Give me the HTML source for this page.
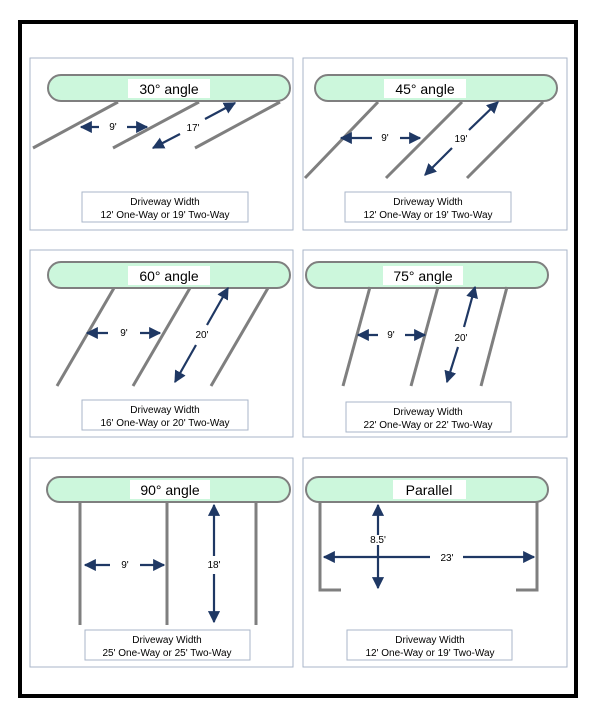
<!DOCTYPE html>
<html><head><meta charset="utf-8"><style>
body{margin:0;background:#fff;}
svg{display:block;font-family:"Liberation Sans",sans-serif;}
.pb{fill:#fff;stroke:#a9b6c9;stroke-width:1}
.pill{fill:#ccf7dc;stroke:#7f7f7f;stroke-width:2}
.ln{stroke:#7f7f7f;stroke-width:3;fill:none}
.ar{stroke:#1f3864;stroke-width:2.2;fill:none}
.bx{fill:#fff;stroke:#a9b6c9;stroke-width:1}
.t{font-size:14px;fill:#000}
.s{font-size:10px;fill:#000}
</style></head><body>
<svg width="600" height="712" viewBox="0 0 600 712">
<defs>
<marker id="a" viewBox="0 0 10 10" refX="9" refY="5" markerWidth="5.5" markerHeight="5.5" orient="auto-start-reverse" markerUnits="strokeWidth"><path d="M0,0L10,5L0,10z" fill="#1f3864"/></marker>
</defs>
<rect x="20" y="22" width="556" height="674" fill="#fff" stroke="#000" stroke-width="4"/>

<!-- Panel 1: 30 -->
<rect class="pb" x="30" y="58" width="263" height="172"/>
<rect class="pill" x="48" y="75" width="242" height="26" rx="13"/>
<rect x="128" y="79" width="82" height="19" fill="#fff"/>
<text class="t" x="169" y="94" text-anchor="middle">30° angle</text>
<line class="ln" x1="33" y1="148" x2="118" y2="102"/>
<line class="ln" x1="113" y1="148" x2="199" y2="102"/>
<line class="ln" x1="195" y1="148" x2="280" y2="102"/>
<line class="ar" x1="99" y1="127" x2="81" y2="127" marker-end="url(#a)"/>
<line class="ar" x1="127" y1="127" x2="147" y2="127" marker-end="url(#a)"/>
<text class="s" x="113" y="130" text-anchor="middle">9'</text>
<line class="ar" x1="205" y1="119" x2="235" y2="103" marker-end="url(#a)"/>
<line class="ar" x1="180" y1="134" x2="153" y2="148" marker-end="url(#a)"/>
<text class="s" x="193" y="131" text-anchor="middle">17'</text>
<rect class="bx" x="82" y="192" width="166" height="30"/>
<text class="s" x="165" y="205" text-anchor="middle">Driveway Width</text>
<text class="s" x="165" y="218" text-anchor="middle">12' One-Way or 19' Two-Way</text>

<!-- Panel 2: 45 -->
<rect class="pb" x="303" y="58" width="264" height="172"/>
<rect class="pill" x="315" y="75" width="242" height="26" rx="13"/>
<rect x="384" y="79" width="82" height="19" fill="#fff"/>
<text class="t" x="425" y="94" text-anchor="middle">45° angle</text>
<line class="ln" x1="305" y1="178" x2="378" y2="102"/>
<line class="ln" x1="386" y1="178" x2="462" y2="102"/>
<line class="ln" x1="467" y1="178" x2="543" y2="102"/>
<line class="ar" x1="372" y1="138" x2="341" y2="138" marker-end="url(#a)"/>
<line class="ar" x1="400" y1="138" x2="420" y2="138" marker-end="url(#a)"/>
<text class="s" x="385" y="141" text-anchor="middle">9'</text>
<line class="ar" x1="469" y1="130" x2="498" y2="102" marker-end="url(#a)"/>
<line class="ar" x1="452" y1="148" x2="425" y2="175" marker-end="url(#a)"/>
<text class="s" x="461" y="142" text-anchor="middle">19'</text>
<rect class="bx" x="345" y="192" width="166" height="30"/>
<text class="s" x="428" y="205" text-anchor="middle">Driveway Width</text>
<text class="s" x="428" y="218" text-anchor="middle">12' One-Way or 19' Two-Way</text>

<!-- Panel 3: 60 -->
<rect class="pb" x="30" y="250" width="263" height="187"/>
<rect class="pill" x="48" y="262" width="242" height="26" rx="13"/>
<rect x="128" y="266" width="82" height="19" fill="#fff"/>
<text class="t" x="169" y="281" text-anchor="middle">60° angle</text>
<line class="ln" x1="57" y1="386" x2="114" y2="288"/>
<line class="ln" x1="133" y1="386" x2="190" y2="288"/>
<line class="ln" x1="211" y1="386" x2="268" y2="288"/>
<line class="ar" x1="108" y1="333" x2="87" y2="333" marker-end="url(#a)"/>
<line class="ar" x1="140" y1="333" x2="160" y2="333" marker-end="url(#a)"/>
<text class="s" x="124" y="336" text-anchor="middle">9'</text>
<line class="ar" x1="207" y1="325" x2="228" y2="288" marker-end="url(#a)"/>
<line class="ar" x1="196" y1="345" x2="175" y2="382" marker-end="url(#a)"/>
<text class="s" x="202" y="338" text-anchor="middle">20'</text>
<rect class="bx" x="82" y="400" width="166" height="30"/>
<text class="s" x="165" y="413" text-anchor="middle">Driveway Width</text>
<text class="s" x="165" y="426" text-anchor="middle">16' One-Way or 20' Two-Way</text>

<!-- Panel 4: 75 -->
<rect class="pb" x="303" y="250" width="264" height="187"/>
<rect class="pill" x="306" y="262" width="242" height="26" rx="13"/>
<rect x="383" y="266" width="80" height="19" fill="#fff"/>
<text class="t" x="423" y="281" text-anchor="middle">75° angle</text>
<line class="ln" x1="343" y1="386" x2="370" y2="287"/>
<line class="ln" x1="411" y1="386" x2="438" y2="287"/>
<line class="ln" x1="481" y1="386" x2="507" y2="287"/>
<line class="ar" x1="378" y1="335" x2="358" y2="335" marker-end="url(#a)"/>
<line class="ar" x1="405" y1="335" x2="425" y2="335" marker-end="url(#a)"/>
<text class="s" x="391" y="338" text-anchor="middle">9'</text>
<line class="ar" x1="464" y1="327" x2="475" y2="287" marker-end="url(#a)"/>
<line class="ar" x1="458" y1="347" x2="447" y2="382" marker-end="url(#a)"/>
<text class="s" x="461" y="341" text-anchor="middle">20'</text>
<rect class="bx" x="346" y="402" width="165" height="30"/>
<text class="s" x="428" y="415" text-anchor="middle">Driveway Width</text>
<text class="s" x="428" y="428" text-anchor="middle">22' One-Way or 22' Two-Way</text>

<!-- Panel 5: 90 -->
<rect class="pb" x="30" y="458" width="263" height="209"/>
<rect class="pill" x="47" y="477" width="243" height="25" rx="12.5"/>
<rect x="130" y="480" width="80" height="19" fill="#fff"/>
<text class="t" x="170" y="495" text-anchor="middle">90° angle</text>
<line class="ln" x1="80" y1="502" x2="80" y2="625"/>
<line class="ln" x1="167" y1="502" x2="167" y2="625"/>
<line class="ln" x1="256" y1="502" x2="256" y2="625"/>
<line class="ar" x1="110" y1="565" x2="85" y2="565" marker-end="url(#a)"/>
<line class="ar" x1="140" y1="565" x2="164" y2="565" marker-end="url(#a)"/>
<text class="s" x="125" y="568" text-anchor="middle">9'</text>
<line class="ar" x1="214" y1="556" x2="214" y2="505" marker-end="url(#a)"/>
<line class="ar" x1="214" y1="574" x2="214" y2="622" marker-end="url(#a)"/>
<text class="s" x="214" y="568" text-anchor="middle">18'</text>
<rect class="bx" x="85" y="630" width="165" height="30"/>
<text class="s" x="167" y="643" text-anchor="middle">Driveway Width</text>
<text class="s" x="167" y="656" text-anchor="middle">25' One-Way or 25' Two-Way</text>

<!-- Panel 6: Parallel -->
<rect class="pb" x="303" y="458" width="264" height="209"/>
<rect class="pill" x="306" y="477" width="242" height="25" rx="12.5"/>
<rect x="393" y="480" width="73" height="19" fill="#fff"/>
<text class="t" x="429" y="495" text-anchor="middle">Parallel</text>
<polyline class="ln" points="320,502 320,590 341,590"/>
<polyline class="ln" points="537,502 537,590 516,590"/>
<line class="ar" x1="378" y1="535" x2="378" y2="505" marker-end="url(#a)"/>
<line class="ar" x1="378" y1="545" x2="378" y2="588" marker-end="url(#a)"/>
<text class="s" x="378" y="543" text-anchor="middle">8.5'</text>
<line class="ar" x1="430" y1="557" x2="324" y2="557" marker-end="url(#a)"/>
<line class="ar" x1="463" y1="557" x2="534" y2="557" marker-end="url(#a)"/>
<text class="s" x="447" y="561" text-anchor="middle">23'</text>
<rect class="bx" x="347" y="630" width="165" height="30"/>
<text class="s" x="430" y="643" text-anchor="middle">Driveway Width</text>
<text class="s" x="430" y="656" text-anchor="middle">12' One-Way or 19' Two-Way</text>
</svg>
</body></html>
